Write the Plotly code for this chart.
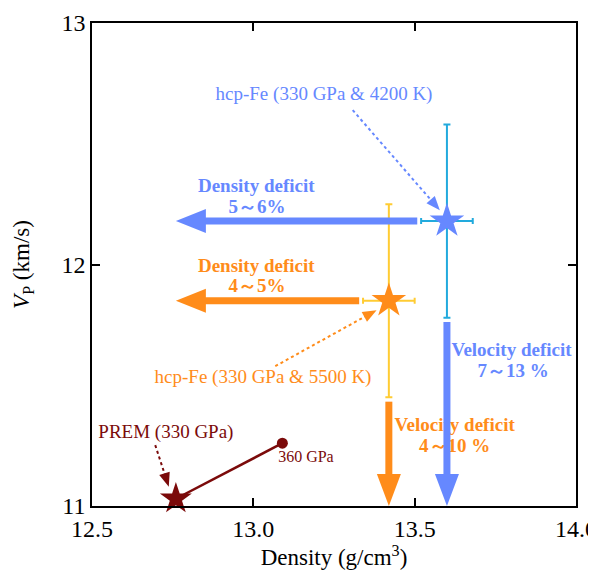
import math
import plotly.graph_objects as go

# ---------------- data ----------------
hcp_rho = [13.60, 13.42]          # density of hcp-Fe (g/cm3)
hcp_vp = [12.18, 11.85]           # Vp of hcp-Fe (km/s)
hcp_rho_err = [0.08, 0.08]
hcp_vp_err = [0.40, 0.40]

prem_rho = [12.76, 13.09]
prem_vp = [11.03, 11.26]

deficit_rho_tip = 12.76           # density-deficit arrows point to PREM density
deficit_vp_tip = 11.00            # velocity-deficit arrows point to axis bottom

# text labels: one entry per line (text, x, y in data units, colour index, bold, size)
label_text = ["hcp-Fe (330 GPa & 4200 K)", "Density deficit", "5～6%",
              "Density deficit", "4～5%", "hcp-Fe (330 GPa & 5500 K)",
              "Velocity deficit", "7～13 %", "Velocity deficit", "4～10 %",
              "PREM (330 GPa)", "360 GPa"]
label_x = [13.219, 13.009, 13.011, 13.009, 13.011, 13.030,
           13.800, 13.805, 13.624, 13.624, 12.729, 13.163]
label_y = [12.701, 12.321, 12.231, 11.990, 11.904, 11.529,
           11.641, 11.555, 11.330, 11.244, 11.300, 11.198]
label_col = [0, 0, 0, 1, 1, 1, 0, 0, 1, 1, 2, 2]
label_bold = [False, True, True, True, True, False, True, True, True, True, False, False]
label_size = [19, 19, 19, 19, 19, 19, 19, 19, 19, 19, 19, 16]

# dotted pointer arrows: tails and tips (data units)
ptr_tail_x = [13.308, 13.068, 12.696]
ptr_tail_y = [12.639, 11.579, 11.252]
ptr_tip_x = [13.578, 13.382, 12.738]
ptr_tip_y = [12.225, 11.811, 11.080]

x_range = [12.5, 14.0]
y_range = [11.0, 13.0]
x_ticks = [12.5, 13.0, 13.5, 14.0]
y_ticks = [11, 12, 13]

# ---------------- style ----------------
main_col = ["#6688ff", "#ff8c1a"]
err_col = ["#22aadd", "#ffcc33"]
prem_col = "#7b0a0a"
text_cols = main_col + [prem_col]
FONT = "Liberation Serif"

# page body has an 8px margin, so the figure is offset by 8px in the window
W, H = 588, 566
ML, MR, MT, MB = 84, 20, 15, 68
PW, PH = W - ML - MR, H - MT - MB
sx = PW / (x_range[1] - x_range[0])   # px per x unit
sy = PH / (y_range[1] - y_range[0])   # px per y unit

fig = go.Figure()
shapes = []


def arrow(x0, y0, x1, y1, color, width, head_len, head_w, dash="solid"):
    px0, py0 = x0 * sx, y0 * sy
    px1, py1 = x1 * sx, y1 * sy
    dx, dy = px1 - px0, py1 - py0
    d = math.hypot(dx, dy)
    ux, uy = dx / d, dy / d
    bx, by = px1 - ux * head_len, py1 - uy * head_len
    nx, ny = -uy, ux
    shapes.append(dict(type="line", xref="x", yref="y", layer="above",
                       x0=px0 / sx, y0=py0 / sy, x1=(bx + ux) / sx, y1=(by + uy) / sy,
                       line=dict(color=color, width=width, dash=dash)))
    pts = [(px1, py1), (bx + nx * head_w / 2, by + ny * head_w / 2),
           (bx - nx * head_w / 2, by - ny * head_w / 2)]
    path = "M " + " L ".join(f"{px / sx:.5f},{py / sy:.5f}" for px, py in pts) + " Z"
    shapes.append(dict(type="path", xref="x", yref="y", layer="above", path=path,
                       fillcolor=color, line=dict(width=0)))


# text labels (drawn below the arrows)
for t, x, y, c, b, s in zip(label_text, label_x, label_y, label_col, label_bold, label_size):
    fig.add_trace(go.Scatter(x=[x], y=[y], mode="text",
                             text=[f"<b>{t}</b>" if b else t], textposition="middle center",
                             textfont=dict(family=FONT, size=s, color=text_cols[c]),
                             showlegend=False, hoverinfo="skip", cliponaxis=False))

# hcp-Fe points with error bars
for i in range(2):
    fig.add_trace(go.Scatter(
        x=[hcp_rho[i]], y=[hcp_vp[i]], mode="markers",
        marker=dict(symbol="star", size=26, color=main_col[i], opacity=1, line=dict(width=0)),
        error_x=dict(type="data", array=[hcp_rho_err[i]], color=err_col[i], thickness=2, width=3),
        error_y=dict(type="data", array=[hcp_vp_err[i]], color=err_col[i], thickness=2, width=3.5),
        showlegend=False))

# PREM
fig.add_trace(go.Scatter(
    x=prem_rho, y=prem_vp, mode="lines",
    line=dict(color=prem_col, width=2.5), showlegend=False))
fig.add_trace(go.Scatter(
    x=prem_rho, y=prem_vp, mode="markers",
    marker=dict(symbol=["star", "circle"], size=[24, 11], color=prem_col, opacity=1,
                line=dict(width=0)),
    showlegend=False, cliponaxis=False))

# deficit arrows (start just beyond the error bars)
gap = 0.012
for i in range(2):
    arrow(hcp_rho[i] - hcp_rho_err[i] - gap, hcp_vp[i], deficit_rho_tip, hcp_vp[i],
          main_col[i], 7, 30, 24)
    arrow(hcp_rho[i], hcp_vp[i] - hcp_vp_err[i] - gap * 1.5, hcp_rho[i], deficit_vp_tip,
          main_col[i], 7, 32, 24)

# dotted pointers
ptr_col = [main_col[0], main_col[1], prem_col]
for i in range(3):
    arrow(ptr_tail_x[i], ptr_tail_y[i], ptr_tip_x[i], ptr_tip_y[i], ptr_col[i], 2, 14, 11, dash="dot")

axis_common = dict(showline=True, linecolor="black", linewidth=1.5, mirror="ticks",
                   ticks="inside", ticklen=8, tickwidth=1.5, tickcolor="black",
                   showgrid=False, zeroline=False, automargin=False,
                   ticklabeloverflow="allow",
                   tickfont=dict(family=FONT, size=24, color="black"))

fig.update_layout(
    width=W, height=H, margin=dict(l=ML, r=MR, t=MT, b=MB),
    paper_bgcolor="white", plot_bgcolor="white",
    font=dict(family=FONT),
    shapes=shapes,
    xaxis=dict(range=x_range, tickvals=x_ticks, ticktext=[f"{v:.1f}" for v in x_ticks],
               title=dict(text="Density (g/cm<sup>3</sup>)", standoff=6,
                          font=dict(family=FONT, size=23, color="black")),
               **axis_common),
    yaxis=dict(range=y_range, tickvals=y_ticks, ticktext=[str(v) for v in y_ticks],
               title=dict(text="<i>V</i><sub>P</sub> (km/s)", standoff=25,
                          font=dict(family=FONT, size=23, color="black")),
               **axis_common),
)

fig.write_html("out.html")
